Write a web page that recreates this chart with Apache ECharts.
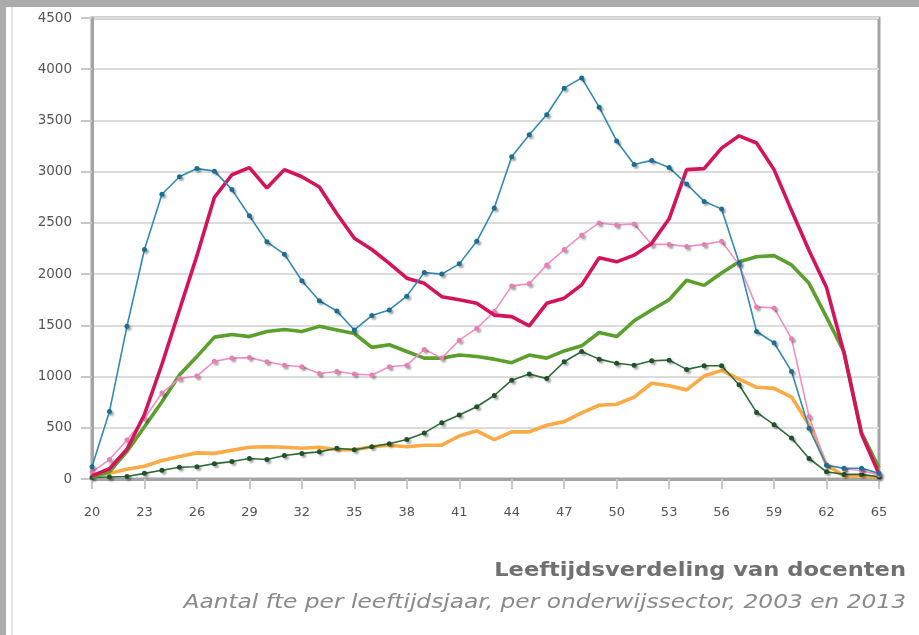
<!DOCTYPE html>
<html>
<head>
<meta charset="utf-8">
<script src="https://cdn.jsdelivr.net/npm/echarts@6/dist/echarts.min.js"></script>
<style>
html,body{margin:0;padding:0;background:#fff;}
#c{width:919px;height:635px;}
</style>
</head>
<body>
<div id="c"></div>
<script>
// Categories: age in years
const ages = [];
for (let a = 20; a <= 65; a++) ages.push(String(a));

const yTicks = [0, 500, 1000, 1500, 2000, 2500, 3000, 3500, 4000, 4500];

const blueVals = [120,660,1490,2240,2780,2950,3030,3005,2825,2570,
  2315,2195,1935,1740,1640,1455,1595,1650,1785,2015,
  2000,2100,2320,2645,3145,3360,3555,3815,3915,3630,
  3300,3070,3110,3040,2880,2710,2635,2110,1440,1330,
  1050,495,135,105,105,55];
const redVals = [30,100,290,630,1120,1650,2180,2750,2970,3040,
  2840,3020,2950,2850,2590,2350,2240,2105,1960,1910,
  1780,1750,1715,1600,1585,1495,1715,1765,1895,2160,
  2120,2185,2300,2540,3020,3030,3230,3350,3280,3020,
  2620,2230,1870,1230,440,50];
const greenVals = [20,70,270,510,755,1015,1195,1385,1410,1390,
  1440,1460,1440,1490,1455,1420,1285,1310,1245,1180,
  1180,1210,1195,1170,1135,1210,1180,1250,1300,1430,
  1390,1545,1650,1750,1940,1890,2010,2120,2170,2180,
  2090,1910,1580,1240,450,110];
const pinkVals = [70,190,380,590,840,980,1005,1150,1180,1185,
  1145,1110,1095,1030,1050,1025,1015,1095,1110,1265,
  1180,1355,1470,1635,1885,1905,2090,2240,2380,2500,
  2480,2490,2290,2290,2270,2290,2320,2090,1680,1670,
  1370,610,140,100,80,40];
const orangeVals = [30,55,95,125,180,220,255,250,280,310,
  315,310,300,310,285,285,315,330,315,330,
  330,420,470,385,460,460,525,560,645,720,
  730,800,935,910,870,1005,1060,975,895,885,
  800,530,140,30,30,20];
const darkGreenVals = [15,20,25,55,85,115,120,150,170,200,
  190,230,250,265,300,285,315,345,385,450,
  550,625,705,815,965,1025,980,1145,1245,1170,
  1130,1110,1155,1160,1070,1105,1105,920,650,530,
  400,200,70,45,45,20];

const titleText = 'Leeftijdsverdeling van docenten';
const subText = 'Aantal fte per leeftijdsjaar, per onderwijssector, 2003 en 2013';

const chart = echarts.init(document.getElementById('c'), null, {renderer: 'canvas'});

function thick(name, data, color, z) {
  return {name, type: 'line', data, z, symbol: 'none', smooth: false,
    lineStyle: {color, width: 3.6}, itemStyle: {color}, animation: false};
}
function thin(name, data, color, markColor, z) {
  return {name, type: 'line', data, z, symbol: 'circle', symbolSize: 5, showSymbol: true,
    lineStyle: {color, width: 1.6},
    itemStyle: {color: markColor, shadowColor: 'rgba(0,0,0,0.35)', shadowBlur: 2, shadowOffsetX: 2, shadowOffsetY: 2},
    animation: false};
}

const FONT = 'DejaVu Sans';

chart.setOption({
  backgroundColor: '#ffffff',
  animation: false,
  textStyle: {fontFamily: FONT},
  graphic: [
    {type: 'rect', shape: {x: 0, y: 0, width: 919, height: 7}, style: {fill: '#acacac'}, z: 100},
    {type: 'rect', shape: {x: 0, y: 0, width: 6, height: 635}, style: {fill: '#acacac'}, z: 100},
    {type: 'rect', shape: {x: 11, y: 7, width: 2, height: 628}, style: {fill: '#e2e2e2'}, z: 100},
    {type: 'text', x: 906, y: 571, scaleX: 1.13, z: 100,
      style: {text: titleText, align: 'right', verticalAlign: 'middle',
        font: 'bold 20px "DejaVu Sans"', fill: '#707070'}},
    {type: 'text', x: 906, y: 603, scaleX: 1.165, z: 100,
      style: {text: subText, align: 'right', verticalAlign: 'middle',
        font: 'italic 20px "DejaVu Sans"', fill: '#8a8a8a'}}
  ],
  grid: {left: 92, top: 18, right: 40, bottom: 156, show: true,
    borderColor: '#a4a4a4', borderWidth: 3, backgroundColor: 'transparent'},
  xAxis: {
    type: 'category', data: ages, boundaryGap: false,
    axisLine: {show: true, lineStyle: {color: '#a4a4a4', width: 3}},
    axisTick: {show: true, interval: 2, length: 10, lineStyle: {color: '#c8c8c8', width: 2}},
    axisLabel: {interval: 2, margin: 27, fontFamily: FONT, fontSize: 13, color: '#555'},
    splitLine: {show: false}
  },
  yAxis: {
    type: 'value', min: yTicks[0], max: yTicks[yTicks.length - 1], interval: 500,
    axisLine: {show: true, lineStyle: {color: '#a4a4a4', width: 3}},
    axisTick: {show: true, length: 11, lineStyle: {color: '#c8c8c8', width: 2}},
    axisLabel: {margin: 20, fontFamily: FONT, fontSize: 13.5, color: '#555',
      formatter: function (v) { return String(v); }},
    splitLine: {show: true, lineStyle: {color: '#dcdcdc', width: 2}}
  },
  series: [
    thick('orange', orangeVals, '#fbaa45', 2),
    thin('darkgreen', darkGreenVals, '#2e6b3a', '#1f5229', 3),
    thick('green', greenVals, '#5b9f2d', 4),
    thin('pink', pinkVals, '#f090c2', '#e67fb4', 5),
    thick('red', redVals, '#d3145a', 6),
    thin('blue', blueVals, '#3189b4', '#1d6e95', 7)
  ]
});
</script>
</body>
</html>
